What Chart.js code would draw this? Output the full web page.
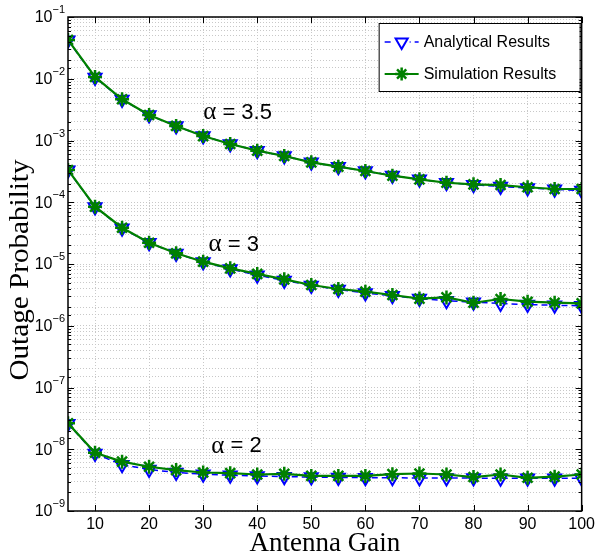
<!DOCTYPE html>
<html>
<head>
<meta charset="utf-8">
<script src="https://cdn.jsdelivr.net/npm/chart.js@4.4.1/dist/chart.umd.min.js"></script>
<style>
  body { margin: 0; background: #fff; }
  #wrap { width: 599px; height: 556px; }
</style>
</head>
<body>
<div id="wrap"><canvas id="chart" width="599" height="556"></canvas></div>
<script>
/*---------------- dados ----------------*/

const gains = [5, 10, 15, 20, 25, 30, 35, 40, 45, 50, 55, 60, 65, 70, 75, 80, 85, 90, 95, 100];

// alpha = 3.5
const anaA35 = [0.042, 0.0105, 0.0046, 0.00258, 0.00171, 0.00118, 0.00088, 0.00068, 0.00056, 0.000445,
  0.000375, 0.00032, 0.00027, 0.000235, 0.000207, 0.000192, 0.00018, 0.00017, 0.000162, 0.000155];
const simA35 = [0.0425, 0.0107, 0.00465, 0.00259, 0.00172, 0.00118, 0.000877, 0.000684, 0.000561, 0.000443,
  0.000377, 0.000321, 0.000269, 0.000235, 0.000207, 0.000195, 0.00019, 0.000175, 0.000164, 0.000164];

// alpha = 3
const anaA3 = [3.3e-4, 8.4e-5, 3.8e-5, 2.2e-5, 1.48e-5, 1.08e-5, 8.3e-6, 6.6e-6, 5.4e-6, 4.5e-6,
  3.85e-6, 3.4e-6, 3.05e-6, 2.75e-6, 2.55e-6, 2.4e-6, 2.3e-6, 2.2e-6, 2.15e-6, 2.1e-6];
const simA3 = [3.33e-4, 8.47e-5, 3.87e-5, 2.21e-5, 1.49e-5, 1.09e-5, 8.5e-6, 6.9e-6, 5.65e-6, 4.57e-6,
  3.94e-6, 3.56e-6, 3.15e-6, 2.75e-6, 2.88e-6, 2.36e-6, 2.71e-6, 2.45e-6, 2.36e-6, 2.3e-6];

// alpha = 2
const anaA2 = [2.6e-8, 8.5e-9, 5.6e-9, 4.7e-9, 4.2e-9, 3.95e-9, 3.8e-9, 3.7e-9, 3.6e-9, 3.55e-9,
  3.5e-9, 3.47e-9, 3.45e-9, 3.43e-9, 3.42e-9, 3.41e-9, 3.4e-9, 3.4e-9, 3.39e-9, 3.39e-9];
const simA2 = [2.63e-8, 8.8e-9, 6.3e-9, 5.2e-9, 4.6e-9, 4.2e-9, 4.1e-9, 3.9e-9, 4.0e-9, 3.7e-9,
  3.7e-9, 3.7e-9, 3.95e-9, 4.05e-9, 3.9e-9, 3.55e-9, 3.9e-9, 3.45e-9, 3.6e-9, 3.9e-9];

const xTicks = [10, 20, 30, 40, 50, 60, 70, 80, 90, 100];
const yExponents = [-1, -2, -3, -4, -5, -6, -7, -8, -9];
const seriesNames = ["Analytical Results", "Simulation Results"];
const curveLabels = ["3.5", "3", "2"];
const curveLabelAt = [[30, 2.8e-3], [31, 2.04e-5], [31.5, 1.13e-8]];

/*---------------- estilos ----------------*/

const BLUE = "#0000ff";
const GREEN = "#008000";
const GRID = "#c8c8c8";

function toPoints(ys) {
  return gains.map((g, i) => ({ x: g, y: ys[i] }));
}

function analytical(ys) {
  return {
    label: seriesNames[0], data: toPoints(ys), order: 1,
    borderColor: BLUE, borderWidth: 1.5, borderDash: [6, 4],
    pointStyle: "triangle", pointRotation: 180, pointRadius: 7.5,
    pointBorderColor: BLUE, pointBackgroundColor: "rgba(0,0,0,0)", pointBorderWidth: 2,
    fill: false, tension: 0
  };
}

function simulation(ys) {
  return {
    label: seriesNames[1], data: toPoints(ys), order: 0,
    borderColor: GREEN, borderWidth: 2.2,
    pointStyle: "star", pointRadius: 7, pointBorderColor: GREEN,
    pointBackgroundColor: GREEN, pointBorderWidth: 2.5,
    fill: false, tension: 0
  };
}

/*---------------- moldura, marcas, rótulos, legenda ----------------*/

function drawStar(ctx, x, y, r) {
  ctx.beginPath();
  for (let k = 0; k < 4; k++) {
    const a = k * Math.PI / 4;
    ctx.moveTo(x - Math.cos(a) * r, y - Math.sin(a) * r);
    ctx.lineTo(x + Math.cos(a) * r, y + Math.sin(a) * r);
  }
  ctx.stroke();
}

function drawTriangleDown(ctx, x, y, r) {
  ctx.beginPath();
  ctx.moveTo(x, y + r);
  ctx.lineTo(x - r * 0.866, y - r * 0.5);
  ctx.lineTo(x + r * 0.866, y - r * 0.5);
  ctx.closePath();
  ctx.stroke();
}

const framePlugin = {
  id: "frame",
  afterDatasetsDraw(chart) {
    const ctx = chart.ctx;
    const a = chart.chartArea;
    const xs = chart.scales.x;
    const ys = chart.scales.y;
    ctx.save();
    ctx.strokeStyle = "#000";
    ctx.lineWidth = 1;
    // marcas para dentro
    ctx.beginPath();
    xTicks.forEach(v => {
      const px = Math.round(xs.getPixelForValue(v)) + 0.5;
      ctx.moveTo(px, a.bottom); ctx.lineTo(px, a.bottom - 6);
      ctx.moveTo(px, a.top); ctx.lineTo(px, a.top + 6);
    });
    ys.ticks.forEach(t => {
      const py = Math.round(ys.getPixelForValue(t.value)) + 0.5;
      const m = Math.log10(t.value);
      const len = Math.abs(m - Math.round(m)) < 1e-6 ? 6 : 3;
      ctx.moveTo(a.left, py); ctx.lineTo(a.left + len, py);
      ctx.moveTo(a.right, py); ctx.lineTo(a.right - len, py);
    });
    ctx.stroke();
    ctx.lineWidth = 1.5;
    ctx.strokeRect(a.left, a.top, a.right - a.left, a.bottom - a.top);
    ctx.restore();
  },
  afterDraw(chart) {
    const ctx = chart.ctx;
    const a = chart.chartArea;
    const xs = chart.scales.x;
    const ys = chart.scales.y;
    ctx.save();
    ctx.fillStyle = "#000";

    // rótulos do eixo y: 10^n
    yExponents.forEach(e => {
      const py = ys.getPixelForValue(Math.pow(10, e));
      const ex = "\u2212" + Math.abs(e);
      ctx.font = "11px 'Liberation Sans'";
      const ew = ctx.measureText(ex).width;
      ctx.textAlign = "right";
      ctx.textBaseline = "middle";
      ctx.fillText(ex, a.left - 3, py - 7);
      ctx.font = "16px 'Liberation Sans'";
      ctx.fillText("10", a.left - 3 - ew, py + 1);
    });

    // títulos dos eixos
    ctx.font = "27px 'Liberation Serif'";
    ctx.textAlign = "center";
    ctx.textBaseline = "alphabetic";
    ctx.fillText("Antenna Gain", (a.left + a.right) / 2, 551);
    ctx.save();
    ctx.translate(28, 270);
    ctx.rotate(-Math.PI / 2);
    ctx.scale(1.08, 1);
    ctx.fillText("Outage Probability", 0, 0);
    ctx.restore();

    // rótulos das curvas
    curveLabels.forEach((lab, i) => {
      const px = xs.getPixelForValue(curveLabelAt[i][0]);
      const py = ys.getPixelForValue(curveLabelAt[i][1]);
      ctx.textAlign = "left";
      ctx.textBaseline = "middle";
      ctx.font = "25px 'Liberation Serif'";
      ctx.fillText("\u03b1", px, py);
      const aw = ctx.measureText("\u03b1").width;
      ctx.font = "22px 'Liberation Sans'";
      ctx.fillText(" = " + lab, px + aw, py);
    });

    // legenda
    const bx = a.right - 203, by = a.top + 6, bw = 201, bh = 68;
    ctx.fillStyle = "#fff";
    ctx.fillRect(bx, by, bw, bh);
    ctx.strokeStyle = "#000";
    ctx.lineWidth = 1;
    ctx.strokeRect(bx + 0.5, by + 0.5, bw, bh);
    const rows = [by + 19, by + 51];
    // linha analítica
    ctx.strokeStyle = BLUE;
    ctx.lineWidth = 1.5;
    ctx.setLineDash([6, 4]);
    ctx.beginPath();
    ctx.moveTo(bx + 6, rows[0]); ctx.lineTo(bx + 40, rows[0]);
    ctx.stroke();
    ctx.setLineDash([]);
    ctx.lineWidth = 2;
    ctx.fillStyle = "#fff";
    ctx.fillRect(bx + 15, rows[0] - 7, 16, 14);
    drawTriangleDown(ctx, bx + 23, rows[0], 7);
    // linha simulação
    ctx.strokeStyle = GREEN;
    ctx.lineWidth = 2.2;
    ctx.beginPath();
    ctx.moveTo(bx + 6, rows[1]); ctx.lineTo(bx + 40, rows[1]);
    ctx.stroke();
    ctx.lineWidth = 2.5;
    drawStar(ctx, bx + 23, rows[1], 6.5);
    ctx.fillStyle = "#000";
    ctx.font = "16px 'Liberation Sans'";
    ctx.textAlign = "left";
    ctx.textBaseline = "middle";
    ctx.fillText(seriesNames[0], bx + 45, rows[0] + 1);
    ctx.fillText(seriesNames[1], bx + 45, rows[1] + 1);
    ctx.restore();
  }
};

/*---------------- gráfico ----------------*/

new Chart(document.getElementById("chart").getContext("2d"), {
  type: "line",
  data: {
    datasets: [
      analytical(anaA35), simulation(simA35),
      analytical(anaA3), simulation(simA3),
      analytical(anaA2), simulation(simA2)
    ]
  },
  options: {
    responsive: false,
    animation: false,
    layout: { padding: { top: 17, right: 15, left: 0, bottom: 0 } },
    plugins: { legend: { display: false }, tooltip: { enabled: false } },
    scales: {
      x: {
        type: "linear", min: 5, max: 100,
        afterBuildTicks: s => { s.ticks = xTicks.map(v => ({ value: v })); },
        afterFit: s => { s.height = 45; },
        grid: { color: GRID, drawTicks: false, lineWidth: 1 },
        border: { display: false, dash: [1, 2] },
        ticks: { color: "#000", font: { family: "'Liberation Sans'", size: 16 }, padding: 4, maxRotation: 0 }
      },
      y: {
        type: "logarithmic", min: 1e-9, max: 1e-1,
        afterFit: s => { s.width = 68; },
        grid: { color: GRID, drawTicks: false, lineWidth: 1 },
        border: { display: false, dash: [1, 2] },
        ticks: { display: false }
      }
    }
  },
  plugins: [framePlugin]
});
</script>
</body>
</html>
